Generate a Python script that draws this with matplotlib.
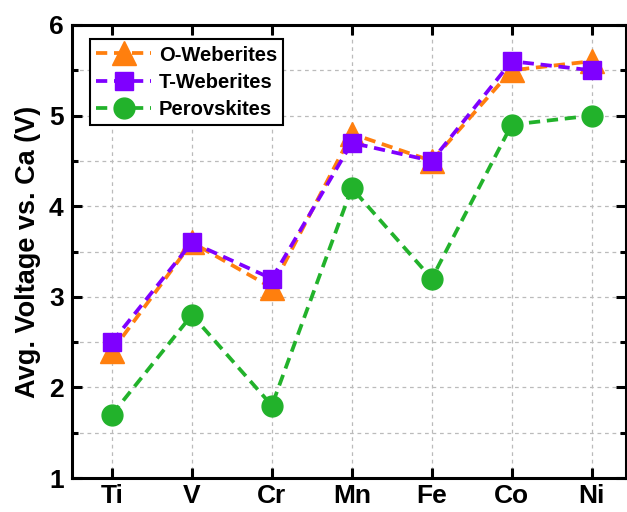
import matplotlib
matplotlib.use("Agg")
import matplotlib.pyplot as plt
from matplotlib.ticker import MultipleLocator

plt.rcParams['font.family'] = ['Liberation Sans', 'DejaVu Sans']
plt.rcParams['font.weight'] = 'bold'

categories = ["Ti", "V", "Cr", "Mn", "Fe", "Co", "Ni"]
o_weberites = [2.4, 3.6, 3.1, 4.8, 4.5, 5.5, 5.6]
t_weberites = [2.5, 3.6, 3.2, 4.7, 4.5, 5.6, 5.5]
perovskites = [1.7, 2.8, 1.8, 4.2, 3.2, 4.9, 5.0]

fig = plt.figure(figsize=(6.27, 5.12), dpi=100)
ax = fig.add_axes([72/627, 1-478/512, (626-72)/627, (478-25)/512])

x = list(range(len(categories)))
ls = (0, (3, 1.8))
ax.plot(x, o_weberites, linestyle=ls, color='#FF7F0E', lw=2.7, marker='^', ms=17,
        label='O-Weberites', zorder=3)
ax.plot(x, t_weberites, linestyle=ls, color='#7F00FF', lw=2.7, marker='s', ms=13,
        label='T-Weberites', zorder=4)
ax.plot(x, perovskites, linestyle=ls, color='#22B22B', lw=2.7, marker='o', ms=15,
        label='Perovskites', zorder=3)

ax.set_xlim(-0.5, 6.43)
ax.set_ylim(1, 6)
ax.set_xticks(x)
ax.set_xticklabels(categories)
ax.yaxis.set_major_locator(MultipleLocator(1))
ax.yaxis.set_minor_locator(MultipleLocator(0.5))
ax.grid(True, which='major', color='#BBBBBB', linestyle=(0, (3, 3)), lw=0.9)
ax.grid(True, which='minor', axis='y', color='#BBBBBB', linestyle=(0, (3, 3)), lw=0.9)

ax.tick_params(axis='both', which='major', direction='in', length=7, width=2.2,
               labelsize=19, top=True, right=True, pad=6)
ax.tick_params(axis='x', which='major', pad=4)
ax.tick_params(axis='y', which='minor', direction='in', length=4, width=2.2, right=True)
ax.tick_params(axis='x', which='minor', bottom=False, top=False)
for s in ax.spines.values():
    s.set_linewidth(2.2)
for lab in ax.get_xticklabels() + ax.get_yticklabels():
    lab.set_fontweight('bold')

ax.set_ylabel('Avg. Voltage vs. Ca (V)', fontsize=19.5, fontweight='bold', labelpad=6)

leg = ax.legend(loc='upper left', bbox_to_anchor=(0.033, 0.968),
                frameon=True, fancybox=False, edgecolor='black', framealpha=1,
                handlelength=2.7, borderpad=0.3, labelspacing=0.4, handletextpad=0.4,
                borderaxespad=0, prop={'weight': 'bold', 'size': 14.5})
leg.get_frame().set_linewidth(1.5)

fig.savefig('out.png', dpi=100)
